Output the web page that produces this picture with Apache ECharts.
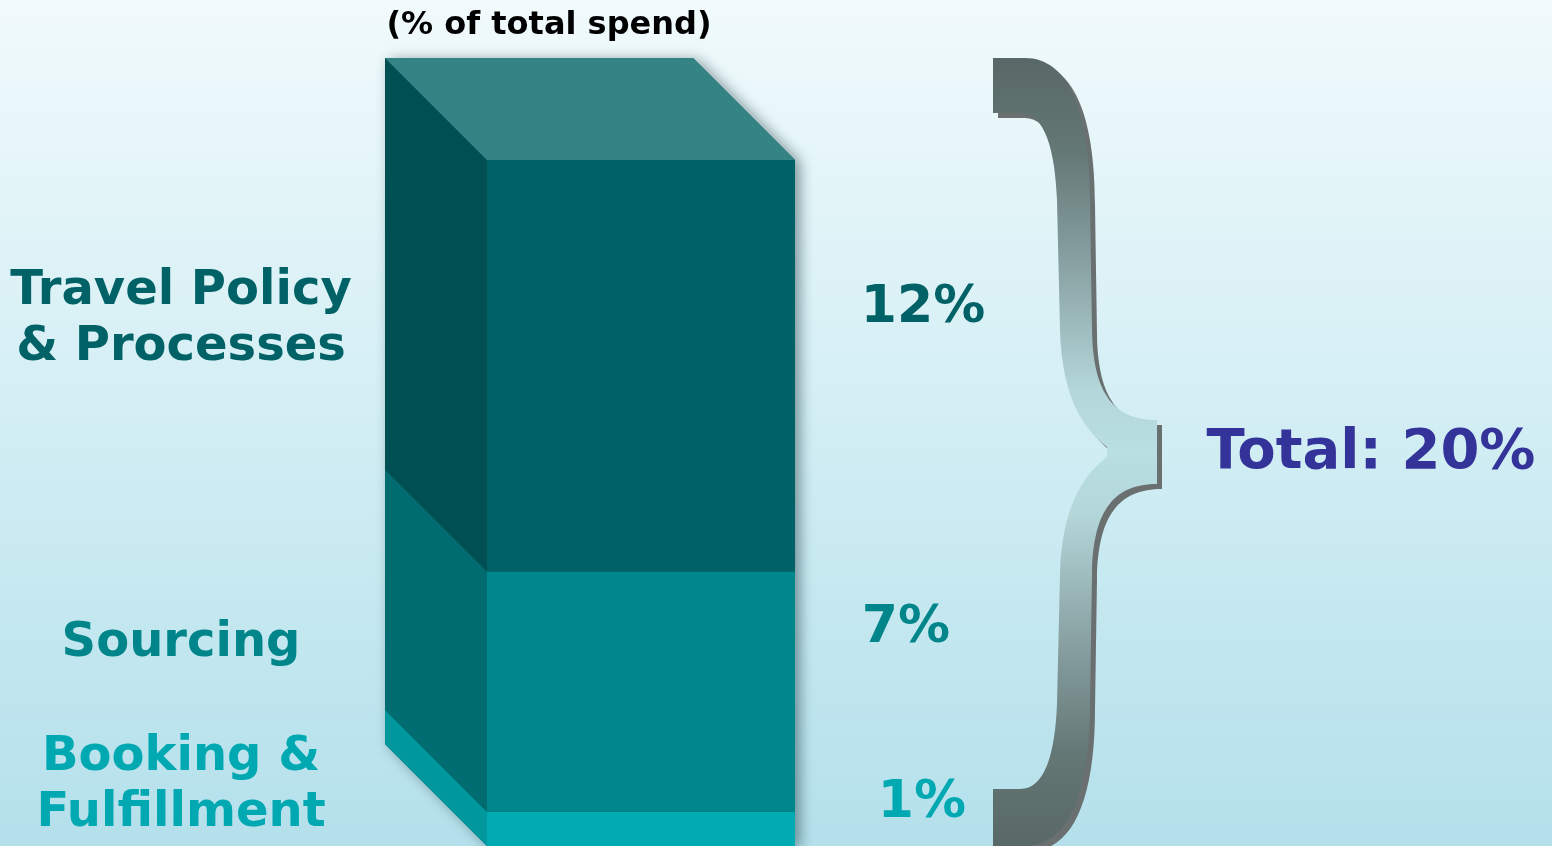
<!DOCTYPE html>
<html><head><meta charset="utf-8">
<script src="https://cdn.jsdelivr.net/npm/echarts@6/dist/echarts.min.js"></script>
<style>html,body{margin:0;padding:0;overflow:hidden;}#c{width:1552px;height:846px;}</style>
</head><body><div id="c"></div>
<script>
// ---- data ----
const categories = ['Booking &\nFulfillment', 'Sourcing', 'Travel Policy\n& Processes'];
const values = [1, 7, 12];
const valueLabels = ['1%', '7%', '12%'];
const totalLabel = 'Total: 20%';
const titleText = '(% of total spend)';

// ---- styles ----
const frontColors = ['#00abb4', '#00878b', '#006266'];
const sideColors = ['#00979d', '#006c70', '#004f53'];
const topColor = '#368385';
const textColors = ['#00a8b1', '#00868a', '#006266'];
const FONT = '"DejaVu Sans", Verdana, sans-serif';
const D = 102; // 3D depth in px
const catLabelPos = [[181, 786], [181, 644], [181, 320]];
const valLabelPos = [[922, 803], [906, 628], [923, 308]];

// stacked rows built from values
const rows = [];
let acc = 0;
values.forEach((v, i) => { rows.push([0, acc, acc + v, i]); acc += v; });
const total = acc;

function geom(api) {
  const lo = api.value(1), hi = api.value(2);
  const pLo = api.coord([0, lo]), pHi = api.coord([0, hi]);
  const bw = api.size([1, 0])[0];
  return { L: pLo[0] - bw / 2, R: pLo[0] + bw / 2, yLo: pLo[1], yHi: pHi[1], bw };
}

function renderShadow(params, api) {
  const g = geom(api);
  return {
    type: 'polygon',
    shape: { points: [[g.L - D, g.yHi - D], [g.R - D, g.yHi - D], [g.R, g.yHi], [g.R, g.yLo], [g.L, g.yLo], [g.L - D, g.yLo - D]] },
    style: { fill: '#00585c', shadowColor: 'rgba(0,30,40,0.45)', shadowBlur: 14, shadowOffsetX: 5, shadowOffsetY: 2 }
  };
}

function renderFaces(params, api) {
  const g = geom(api);
  const i = api.value(3);
  const children = [
    { type: 'polygon', shape: { points: [[g.L, g.yHi], [g.L, g.yLo], [g.L - D, g.yLo - D], [g.L - D, g.yHi - D]] }, style: { fill: sideColors[i] } },
    { type: 'rect', shape: { x: g.L, y: g.yHi, width: g.bw, height: g.yLo - g.yHi }, style: { fill: frontColors[i] } }
  ];
  if (i === values.length - 1) {
    children.push({ type: 'polygon', shape: { points: [[g.L, g.yHi], [g.R, g.yHi], [g.R - D, g.yHi - D], [g.L - D, g.yHi - D]] }, style: { fill: topColor } });
  }
  return { type: 'group', children };
}

const bracePath = 'M 993 58 L 1025 58 C 1068 58 1090 110 1090 200 L 1092 330 C 1093 395 1115 420 1157 420 L 1157 484 C 1115 484 1093 509 1092 574 L 1090 704 C 1090 794 1068 846 1025 846 L 993 846 L 993 789 L 1020 789 C 1045 789 1055 754 1057 704 L 1060 574 C 1062 504 1085 474 1107 457 L 1107 447 C 1085 430 1062 400 1060 330 L 1057 200 C 1055 150 1045 113 1020 113 L 993 113 Z';
const braceGradient = { type: 'linear', x: 0, y: 0, x2: 0, y2: 1, colorStops: [
  { offset: 0, color: '#586866' }, { offset: 0.12, color: '#647876' }, { offset: 0.28, color: '#8ea7a9' },
  { offset: 0.42, color: '#b3d6d9' }, { offset: 0.5, color: '#b9dfe2' }, { offset: 0.58, color: '#b3d6d9' },
  { offset: 0.72, color: '#8ea7a9' }, { offset: 0.88, color: '#647876' }, { offset: 1, color: '#586866' }] };

function renderBrace() {
  return { type: 'group', children: [
    { type: 'path', x: 5, y: 5, shape: { pathData: bracePath }, style: { fill: '#6a6f70' } },
    { type: 'path', shape: { pathData: bracePath }, style: { fill: braceGradient } }
  ] };
}

const graphics = [
  { type: 'text', x: 549, y: 26, z: 10, style: { text: titleText, fontSize: 32, fontWeight: 'bold', fontFamily: FONT, fill: '#000', align: 'center', verticalAlign: 'middle' } },
  { type: 'text', x: 1371, y: 453, z: 10, style: { text: totalLabel, fontSize: 56, fontWeight: 'bold', fontFamily: FONT, fill: '#333399', align: 'center', verticalAlign: 'middle' } }
];
categories.forEach((c, i) => {
  graphics.push({ type: 'text', x: catLabelPos[i][0], y: catLabelPos[i][1], z: 10, style: { text: c, fontSize: 48, fontWeight: 'bold', fontFamily: FONT, fill: textColors[i], align: 'center', verticalAlign: 'middle', lineHeight: 56 } });
  graphics.push({ type: 'text', x: valLabelPos[i][0], y: valLabelPos[i][1], z: 10, style: { text: valueLabels[i], fontSize: 52, fontWeight: 'bold', fontFamily: FONT, fill: textColors[i], align: 'center', verticalAlign: 'middle' } });
});

const chart = echarts.init(document.getElementById('c'), null, { renderer: 'canvas' });
chart.setOption({
  animation: false,
  backgroundColor: { type: 'linear', x: 0, y: 0, x2: 0, y2: 1, colorStops: [
    { offset: 0, color: '#f1fafc' }, { offset: 0.5, color: '#d2eef4' }, { offset: 1, color: '#b4e0eb' }] },
  grid: { left: 487, width: 308, top: 160, bottom: 0, outerBoundsMode: 'none', containLabel: false },
  xAxis: { type: 'category', data: ['spend'], show: false },
  yAxis: { type: 'value', min: 0, max: total, show: false, splitLine: { show: false } },
  series: [
    { type: 'custom', coordinateSystem: 'none', renderItem: renderBrace, data: [[0]], z: 1, silent: true },
    { type: 'custom', renderItem: renderShadow, data: [[0, 0, total, 0]], z: 1, silent: true },
    { type: 'custom', renderItem: renderFaces, data: rows, z: 2, silent: true }
  ],
  graphic: graphics
});
</script></body></html>
